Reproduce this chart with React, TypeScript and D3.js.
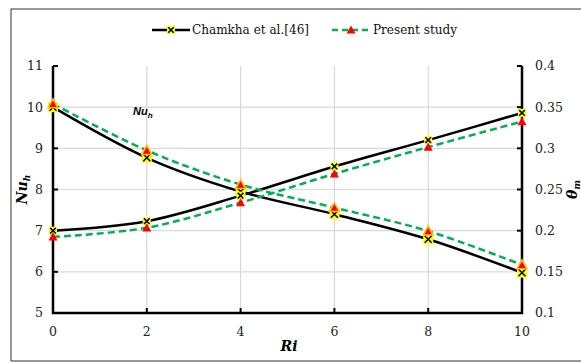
import React from "react";
import * as d3 from "d3";

// Richardson number values
const ri = [0, 2, 4, 6, 8, 10];

// Average Nusselt number on the heated wall (left axis)
const nuChamkha = [10.0, 8.77, 7.95, 7.4, 6.79, 5.98];
const nuPresent = [10.08, 8.95, 8.12, 7.56, 6.99, 6.17];

// Mean temperature (right axis)
const thetaChamkha = [0.2, 0.2115, 0.2425, 0.278, 0.31, 0.343];
const thetaPresent = [0.1925, 0.2035, 0.234, 0.269, 0.3015, 0.3325];

const xTicks = [0, 2, 4, 6, 8, 10];
const yLeftTicks = [5, 6, 7, 8, 9, 10, 11];
const yRightTicks = [0.1, 0.15, 0.2, 0.25, 0.3, 0.35, 0.4];
const legendLabels = ["Chamkha et al.[46]", "Present study"];

const W = 581;
const H = 363;
const plot = { left: 53, right: 522, top: 66, bottom: 313 };
const serif = "'DejaVu Serif', serif";
const GREEN = "#00b050";

const x = d3.scaleLinear().domain([0, 10]).range([plot.left, plot.right]);
const yL = d3.scaleLinear().domain([5, 11]).range([plot.bottom, plot.top]);
const yR = d3.scaleLinear().domain([0.1, 0.4]).range([plot.bottom, plot.top]);

const curve = d3.curveCardinal.tension(0);

function linePath(vals: number[], y: d3.ScaleLinear<number, number>) {
  return d3
    .line<number>()
    .x((_, i) => x(ri[i]))
    .y((v) => y(v))
    .curve(curve)(vals) as string;
}

function XMark({ cx, cy, s }: { cx: number; cy: number; s: number }) {
  const h = s / 2;
  const k = h * 0.7;
  return (
    <g>
      <rect x={cx - h} y={cy - h} width={s} height={s} fill="#ffff00" />
      <path
        d={`M${cx - k},${cy - k}L${cx + k},${cy + k}M${cx - k},${cy + k}L${cx + k},${cy - k}`}
        stroke="#000"
        strokeWidth={1.5}
      />
    </g>
  );
}

function Tri({ cx, cy, s, glow }: { cx: number; cy: number; s: number; glow?: boolean }) {
  const h = s / 2;
  return (
    <path
      d={`M${cx},${cy - h}L${cx + h},${cy + h * 0.8}L${cx - h},${cy + h * 0.8}Z`}
      fill="#ff0000"
      stroke={glow ? "#ffc000" : "none"}
      strokeWidth={glow ? 1.5 : 0}
    />
  );
}

export default function App() {
  return (
    <svg
      width={W}
      height={H}
      style={{ position: "absolute", left: 0, top: 0, background: "#fff" }}
    >
      <rect x={11} y={9} width={640} height={352} fill="#fff" stroke="#333" strokeWidth={1} />

      {/* grid */}
      {yLeftTicks
        .filter((t) => t > 5 && t < 11)
        .map((t) => (
          <line key={"gy" + t} x1={plot.left} x2={plot.right} y1={yL(t)} y2={yL(t)} stroke="#d9d9d9" strokeWidth={1.2} />
        ))}
      {xTicks
        .filter((t) => t > 0 && t < 10)
        .map((t) => (
          <line key={"gx" + t} x1={x(t)} x2={x(t)} y1={plot.top} y2={plot.bottom} stroke="#d9d9d9" strokeWidth={1.2} />
        ))}

      {/* axes */}
      <path
        d={`M${plot.left},${plot.top}V${plot.bottom}H${plot.right}V${plot.top}`}
        fill="none"
        stroke="#000"
        strokeWidth={2.5}
      />
      {yLeftTicks.map((t) => (
        <g key={"yl" + t}>
          <line x1={plot.left} x2={plot.left + 5} y1={yL(t)} y2={yL(t)} stroke="#000" strokeWidth={2} />
          <text x={43} y={yL(t)} dy="0.35em" textAnchor="end" fontFamily={serif} fontSize={12.5} fill="#222">
            {t}
          </text>
        </g>
      ))}
      {yRightTicks.map((t) => (
        <g key={"yr" + t}>
          <line x1={plot.right - 5} x2={plot.right} y1={yR(t)} y2={yR(t)} stroke="#000" strokeWidth={2} />
          <text x={535} y={yR(t)} dy="0.35em" textAnchor="start" fontFamily={serif} fontSize={12.5} fill="#222">
            {d3.format("~g")(t)}
          </text>
        </g>
      ))}
      {xTicks.map((t) => (
        <g key={"x" + t}>
          <line x1={x(t)} x2={x(t)} y1={plot.bottom - 5} y2={plot.bottom} stroke="#000" strokeWidth={2} />
          <text x={x(t)} y={332} dy="0.35em" textAnchor="middle" fontFamily={serif} fontSize={12.5} fill="#222">
            {t}
          </text>
        </g>
      ))}

      {/* axis titles */}
      <text x={289} y={346} dy="0.35em" textAnchor="middle" fontFamily={serif} fontSize={14} fontWeight="bold" fontStyle="italic">
        Ri
      </text>
      <text
        transform={`translate(27,${(plot.top + plot.bottom) / 2}) rotate(-90)`}
        textAnchor="middle"
        fontFamily={serif}
        fontSize={14}
        fontWeight="bold"
        fontStyle="italic"
      >
        Nu<tspan fontSize={9} dy={3}>h</tspan>
      </text>
      <text
        transform={`translate(577,${(plot.top + plot.bottom) / 2}) rotate(-90)`}
        textAnchor="middle"
        fontFamily={serif}
        fontSize={14}
        fontWeight="bold"
        fontStyle="italic"
      >
        θ<tspan fontSize={9} dy={3}>m</tspan>
      </text>
      <text x={133} y={111} dy="0.35em" fontFamily="'Liberation Sans', Arial, sans-serif" fontSize={11} fontWeight="bold" fontStyle="italic">
        Nu<tspan fontSize={8} dy={3}>h</tspan>
      </text>

      {/* series lines */}
      <path d={linePath(nuChamkha, yL)} fill="none" stroke="#000" strokeWidth={2.5} />
      <path d={linePath(thetaChamkha, yR)} fill="none" stroke="#000" strokeWidth={2.5} />
      <path d={linePath(nuPresent, yL)} fill="none" stroke={GREEN} strokeWidth={2.5} strokeDasharray="7,4" />
      <path d={linePath(thetaPresent, yR)} fill="none" stroke={GREEN} strokeWidth={2.5} strokeDasharray="7,4" />

      {/* markers */}
      {nuChamkha.map((v, i) => (
        <XMark key={"nc" + i} cx={x(ri[i])} cy={yL(v)} s={10} />
      ))}
      {thetaChamkha.map((v, i) => (
        <XMark key={"tc" + i} cx={x(ri[i])} cy={yR(v)} s={8} />
      ))}
      {nuPresent.map((v, i) => (
        <Tri key={"np" + i} cx={x(ri[i])} cy={yL(v)} s={10} glow />
      ))}
      {thetaPresent.map((v, i) => (
        <Tri key={"tp" + i} cx={x(ri[i])} cy={yR(v)} s={9} />
      ))}

      {/* legend */}
      <g>
        <line x1={152} x2={190} y1={30} y2={30} stroke="#000" strokeWidth={2.5} />
        <XMark cx={171} cy={30} s={8} />
        <text x={192} y={30} dy="0.35em" fontFamily={serif} fontSize={12.5} fill="#111" textLength={117} lengthAdjust="spacingAndGlyphs">
          {legendLabels[0]}
        </text>
        <line x1={332} x2={370} y1={30} y2={30} stroke={GREEN} strokeWidth={2.5} strokeDasharray="6,4" />
        <Tri cx={351} cy={30} s={9} />
        <text x={373} y={30} dy="0.35em" fontFamily={serif} fontSize={12.5} fill="#111" textLength={84} lengthAdjust="spacingAndGlyphs">
          {legendLabels[1]}
        </text>
      </g>
    </svg>
  );
}
